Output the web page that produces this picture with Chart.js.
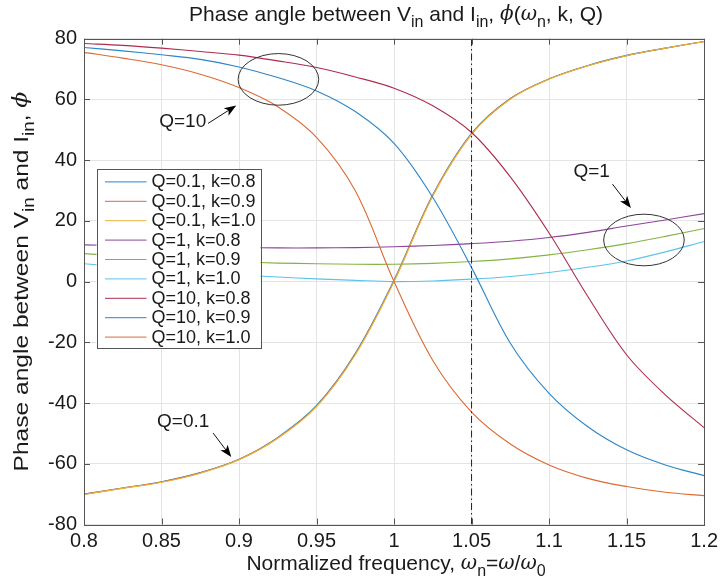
<!DOCTYPE html>
<html>
<head>
<meta charset="utf-8">
<script src="https://cdn.jsdelivr.net/npm/chart.js@4.4.1/dist/chart.umd.min.js"></script>
<style>
  html, body { margin: 0; padding: 0; background: #fff; }
  #wrap { width: 723px; height: 585px; }
</style>
</head>
<body>
<div id="wrap"><canvas id="phaseChart" width="723" height="585"></canvas></div>
<script>
// normalized frequency samples
const freq = [0.8, 0.825, 0.85, 0.875, 0.9, 0.925, 0.95, 0.975, 1.0,
              1.025, 1.05, 1.075, 1.1, 1.125, 1.15, 1.175, 1.2];

const xTicks = [0.8, 0.85, 0.9, 0.95, 1.0, 1.05, 1.1, 1.15, 1.2];
const yTicks = [-80, -60, -40, -20, 0, 20, 40, 60, 80];

// phase angle (deg)
const q01k08 = [-70.0, -68.0, -65.9, -62.9, -58.5, -51.3, -40.8, -23.6, 0.5, 28.6, 48.8, 60.3, 66.8, 71.2, 74.5, 76.9, 79.1];
const q01k09 = [-70.0, -68.0, -66.0, -63.0, -58.6, -51.5, -41.0, -23.9, 0.2, 28.4, 48.6, 60.2, 66.7, 71.1, 74.4, 76.9, 79.1];
const q01k10 = [-70.1, -68.1, -66.1, -63.1, -58.7, -51.6, -41.2, -24.1, 0.0, 28.2, 48.5, 60.1, 66.7, 71.1, 74.4, 76.9, 79.1];
const q1k08  = [12.1, 11.8, 11.5, 11.3, 11.2, 11.1, 11.1, 11.2, 11.5, 11.9, 12.5, 13.3, 14.5, 16.2, 18.3, 20.3, 22.4];
const q1k09  = [9.2, 8.4, 7.6, 7.0, 6.5, 6.1, 5.9, 5.7, 5.7, 6.0, 6.6, 7.5, 8.8, 10.5, 12.5, 14.9, 17.5];
const q1k10  = [5.9, 4.9, 3.9, 3.0, 2.2, 1.5, 0.9, 0.4, 0.0, 0.2, 0.8, 1.7, 3.0, 4.7, 6.8, 9.8, 13.2];
const q10k08 = [78.4, 77.8, 76.9, 75.8, 74.6, 72.7, 70.5, 67.4, 63.7, 57.9, 49.1, 34.5, 16.0, -4.9, -24.1, -37.3, -48.1];
const q10k09 = [77.1, 76.0, 74.7, 73.2, 70.7, 67.2, 62.8, 56.0, 45.5, 27.7, 4.6, -20.3, -36.8, -47.8, -55.4, -60.4, -63.9];
const q10k10 = [75.5, 73.6, 71.4, 68.3, 63.9, 57.6, 47.5, 29.9, 0.0, -26.0, -43.0, -53.5, -60.4, -64.8, -67.5, -69.4, -70.5];

const seriesLabels = ['Q=0.1, k=0.8', 'Q=0.1, k=0.9', 'Q=0.1, k=1.0',
                      'Q=1, k=0.8', 'Q=1, k=0.9', 'Q=1, k=1.0',
                      'Q=10, k=0.8', 'Q=10, k=0.9', 'Q=10, k=1.0'];
const seriesData = [q01k08, q01k09, q01k10, q1k08, q1k09, q1k10, q10k08, q10k09, q10k10];
const seriesColors = ['#2d86c6', '#dc6a34', '#e8b43a', '#8d459a', '#84b443',
                      '#5cc2ec', '#ad2c4c', '#2d86c6', '#dc6a34'];

const markerFreq = 1.05;

// annotations, in data units
const ellipses = [
  { x: 0.9254, y: 66.6, rx: 0.026, ry: 8.5 },
  { x: 1.1612, y: 13.7, rx: 0.026, ry: 8.5 }
];
const notes = [
  { text: 'Q=10',  x: 0.8637, y: 52.5,  from: [0.880, 52.1],  to: [0.8982, 58.0] },
  { text: 'Q=1',   x: 1.1275, y: 36.1,  from: [1.1409, 32.1], to: [1.1528, 24.2] },
  { text: 'Q=0.1', x: 0.864,  y: -46.1, from: [0.8833, -49.9], to: [0.895, -57.8] }
];

const FONT = "'Liberation Sans', Arial, Helvetica, sans-serif";
const GREEK = "'DejaVu Serif', 'Liberation Serif', serif";
const TXT = '#1a1a1a';

// text with subscripts: parts = [[text, 'sub'|'it'|undefined], ...]
function fontFor(kind, size) {
  if (kind === 'sub') return Math.round(size * 0.78) + 'px ' + FONT;
  if (kind === 'it') return 'italic ' + Math.round(size * 0.95) + 'px ' + GREEK;
  return size + 'px ' + FONT;
}
function richWidth(ctx, parts, size) {
  let w = 0;
  parts.forEach(([t, kind]) => {
    ctx.font = fontFor(kind, size);
    w += ctx.measureText(t).width;
  });
  return w;
}
function drawRich(ctx, parts, cx, cy, size) {
  const total = richWidth(ctx, parts, size);
  let x = cx - total / 2;
  ctx.textAlign = 'left';
  ctx.textBaseline = 'middle';
  ctx.fillStyle = TXT;
  parts.forEach(([t, kind]) => {
    ctx.font = fontFor(kind, size);
    const dy = kind === 'sub' ? size * 0.38 : 0;
    ctx.fillText(t, x, cy + dy);
    x += ctx.measureText(t).width;
  });
}

const titleParts = [['Phase angle between V'], ['in', 'sub'], [' and I'], ['in', 'sub'], [', '],
                    ['\u03D5', 'it'], ['('], ['\u03C9', 'it'], ['n', 'sub'], [', k, Q)']];
const xLabelParts = [['Normalized frequency, '], ['\u03C9', 'it'], ['n', 'sub'], ['='],
                     ['\u03C9', 'it'], ['/'], ['\u03C9', 'it'], ['0', 'sub']];
const yLabelParts = [['Phase angle between V'], ['in', 'sub'], [' and I'], ['in', 'sub'], [', '], ['\u03D5', 'it']];

const decorations = {
  id: 'decorations',
  afterDraw(chart) {
    const { ctx, chartArea: a, scales: { x, y } } = chart;
    ctx.save();

    // inward ticks on all four sides, then the box
    ctx.strokeStyle = '#555';
    ctx.lineWidth = 1;
    ctx.beginPath();
    xTicks.forEach(v => {
      const px = Math.round(x.getPixelForValue(v)) + 0.5;
      ctx.moveTo(px, a.bottom); ctx.lineTo(px, a.bottom - 6);
      ctx.moveTo(px, a.top); ctx.lineTo(px, a.top + 6);
    });
    yTicks.forEach(v => {
      const py = Math.round(y.getPixelForValue(v)) + 0.5;
      ctx.moveTo(a.left, py); ctx.lineTo(a.left + 6, py);
      ctx.moveTo(a.right, py); ctx.lineTo(a.right - 6, py);
    });
    ctx.stroke();
    ctx.strokeRect(Math.round(a.left) + 0.5, Math.round(a.top) + 0.5,
                   Math.round(a.right - a.left), Math.round(a.bottom - a.top));

    // ellipses
    ctx.strokeStyle = '#333';
    ellipses.forEach(e => {
      const cx = x.getPixelForValue(e.x), cy = y.getPixelForValue(e.y);
      const rx = x.getPixelForValue(e.x + e.rx) - cx;
      const ry = cy - y.getPixelForValue(e.y + e.ry);
      ctx.beginPath();
      ctx.ellipse(cx, cy, rx, ry, 0, 0, Math.PI * 2);
      ctx.stroke();
    });

    // notes with arrows
    notes.forEach(n => {
      ctx.font = '19px ' + FONT;
      ctx.fillStyle = TXT;
      ctx.textAlign = 'center';
      ctx.textBaseline = 'middle';
      ctx.fillText(n.text, x.getPixelForValue(n.x), y.getPixelForValue(n.y));
      const x0 = x.getPixelForValue(n.from[0]), y0 = y.getPixelForValue(n.from[1]);
      const x1 = x.getPixelForValue(n.to[0]), y1 = y.getPixelForValue(n.to[1]);
      const ang = Math.atan2(y1 - y0, x1 - x0);
      const c = Math.cos(ang), s = Math.sin(ang);
      ctx.strokeStyle = '#111';
      ctx.beginPath();
      ctx.moveTo(x0, y0);
      ctx.lineTo(x1 - 8 * c, y1 - 8 * s);
      ctx.stroke();
      ctx.fillStyle = '#000';
      ctx.beginPath();
      ctx.moveTo(x1, y1);
      ctx.lineTo(x1 - 12 * c + 4.5 * s, y1 - 12 * s - 4.5 * c);
      ctx.lineTo(x1 - 9 * c, y1 - 9 * s);
      ctx.lineTo(x1 - 12 * c - 4.5 * s, y1 - 12 * s + 4.5 * c);
      ctx.closePath();
      ctx.fill();
    });

    // legend box
    const lx = a.left + 12.5, ly = a.top + 130.5, lw = 164, lh = 179;
    ctx.fillStyle = '#fff';
    ctx.fillRect(lx, ly, lw, lh);
    ctx.strokeStyle = '#555';
    ctx.lineWidth = 1;
    ctx.strokeRect(Math.round(lx) + 0.5, Math.round(ly) + 0.5, lw, lh);
    seriesLabels.forEach((lab, i) => {
      const ry = ly + 12.7 + i * 19.4;
      ctx.strokeStyle = seriesColors[i];
      ctx.lineWidth = 1;
      ctx.beginPath();
      ctx.moveTo(lx + 8.5, ry); ctx.lineTo(lx + 50, ry);
      ctx.stroke();
      ctx.font = '18px ' + FONT;
      ctx.fillStyle = TXT;
      ctx.textAlign = 'left';
      ctx.textBaseline = 'middle';
      ctx.fillText(lab, lx + 55, ry + 0.5);
    });

    // titles
    const midX = (a.left + a.right) / 2, midY = (a.top + a.bottom) / 2;
    drawRich(ctx, titleParts, midX + 2, 15, 21);
    drawRich(ctx, xLabelParts, midX + 2, 564, 21);
    ctx.translate(22, midY);
    ctx.rotate(-Math.PI / 2);
    ctx.scale(1.17, 1);
    drawRich(ctx, yLabelParts, 0, 0, 21);
    ctx.restore();
  }
};

const datasets = seriesData.map((vals, i) => ({
  label: seriesLabels[i],
  data: freq.map((f, j) => ({ x: f, y: vals[j] })),
  borderColor: seriesColors[i],
  borderWidth: 1.1,
  pointRadius: 0,
  tension: 0.35,
  order: seriesData.length - i
}));
datasets.push({
  label: 'marker',
  data: [{ x: markerFreq, y: -80 }, { x: markerFreq, y: 80 }],
  borderColor: '#222',
  borderWidth: 1,
  borderDash: [7, 3, 1.5, 3],
  pointRadius: 0,
  order: 0
});

new Chart(document.getElementById('phaseChart'), {
  type: 'line',
  data: { datasets },
  options: {
    responsive: false,
    animation: false,
    devicePixelRatio: 1,
    layout: { padding: { top: 38.7, right: 12, left: 0, bottom: 0 } },
    plugins: {
      legend: { display: false },
      title: { display: false },
      tooltip: { enabled: false }
    },
    scales: {
      x: {
        type: 'linear',
        min: 0.8,
        max: 1.2,
        afterBuildTicks: s => { s.ticks = xTicks.map(v => ({ value: v })); },
        afterFit: s => { s.height = 60.5; },
        ticks: {
          callback: v => String(+Number(v).toFixed(2)),
          font: { family: FONT, size: 20 },
          color: TXT,
          padding: 5,
          maxRotation: 0,
          autoSkip: false
        },
        grid: { color: '#e4e4e4', drawTicks: false },
        border: { display: false }
      },
      y: {
        min: -80,
        max: 80,
        afterBuildTicks: s => { s.ticks = yTicks.map(v => ({ value: v })); },
        afterFit: s => { s.width = 84; },
        ticks: {
          font: { family: FONT, size: 20 },
          color: TXT,
          padding: 7
        },
        grid: { color: '#e4e4e4', drawTicks: false },
        border: { display: false }
      }
    }
  },
  plugins: [decorations]
});
</script>
</body>
</html>
